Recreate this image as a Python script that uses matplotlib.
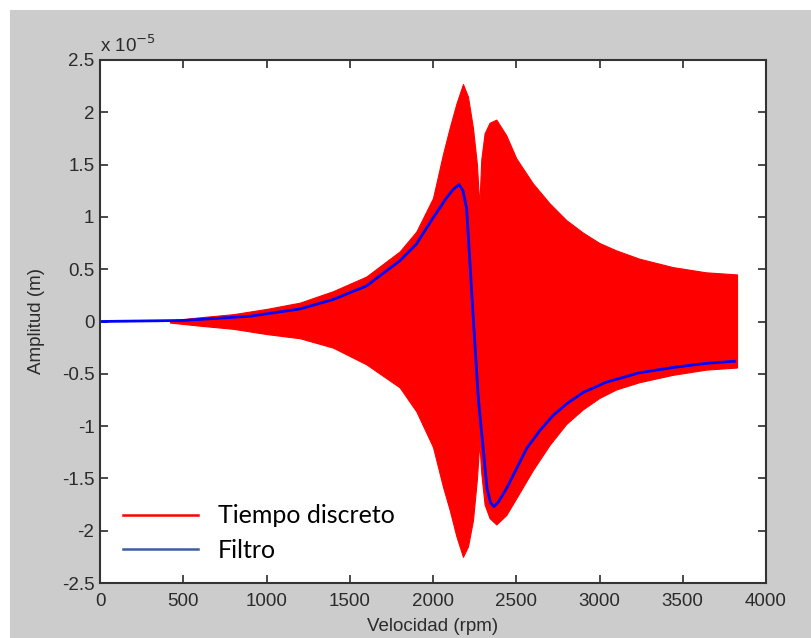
import numpy as np
import matplotlib
matplotlib.use('Agg')
import matplotlib.pyplot as plt
from matplotlib.lines import Line2D
from matplotlib.patches import Rectangle
from matplotlib.ticker import FuncFormatter, MultipleLocator

plt.rcParams['axes.unicode_minus'] = False
plt.rcParams['font.family'] = ['Liberation Sans', 'DejaVu Sans']

# envolvente de la respuesta en tiempo discreto (x 1e-5 m)
rpm_env = [420, 600, 800, 1000, 1200, 1400, 1600, 1800, 1900, 2000, 2060, 2100,
           2140, 2180, 2210, 2240, 2264, 2278, 2290, 2310, 2340, 2380, 2440, 2500,
           2600, 2700, 2800, 2900, 3000, 3100, 3240, 3440, 3640, 3826]
env_sup = [0.01, 0.04, 0.07, 0.12, 0.18, 0.29, 0.43, 0.67, 0.86, 1.18, 1.60, 1.85,
           2.08, 2.27, 2.15, 1.85, 1.50, 1.10, 1.55, 1.80, 1.90, 1.93, 1.78, 1.56,
           1.32, 1.13, 0.97, 0.85, 0.75, 0.68, 0.60, 0.52, 0.47, 0.45]
env_inf = [-0.01, -0.04, -0.07, -0.12, -0.16, -0.25, -0.41, -0.63, -0.86, -1.20, -1.58, -1.80,
           -2.05, -2.25, -2.15, -1.90, -1.50, -1.15, -1.45, -1.75, -1.88, -1.94, -1.85, -1.69,
           -1.42, -1.18, -0.98, -0.84, -0.73, -0.65, -0.58, -0.51, -0.46, -0.44]

# respuesta filtrada
rpm_f = [0, 500, 900, 1200, 1400, 1600, 1800, 1900, 2000, 2080, 2120, 2156, 2180, 2202,
         2242, 2272, 2324, 2345, 2366, 2395, 2444, 2564, 2643, 2720, 2800, 2900, 3040,
         3240, 3440, 3640, 3810]
filtro = [0, 0.01, 0.05, 0.12, 0.21, 0.34, 0.58, 0.74, 0.99, 1.18, 1.26, 1.31, 1.25, 1.08,
          0.03, -0.73, -1.59, -1.73, -1.77, -1.72, -1.59, -1.21, -1.04, -0.90, -0.79, -0.68, -0.58,
          -0.49, -0.44, -0.40, -0.38]

fig = plt.figure(figsize=(8.11, 6.38), dpi=100, facecolor='#cccccc')
# bordes blancos arriba e izquierda
fig.patches.append(Rectangle((0, 1 - 10/638), 1, 10/638, transform=fig.transFigure,
                             facecolor='white', edgecolor='none'))
fig.patches.append(Rectangle((0, 0), 10/811, 1, transform=fig.transFigure,
                             facecolor='white', edgecolor='none'))
ax = fig.add_axes([100/811, 1 - 583/638, 666/811, 523/638])

ax.fill_between(rpm_env, env_sup, env_inf, color='#ff0000', linewidth=0.8, edgecolor='#ff0000')
ax.plot(rpm_f, filtro, color='#0000ff', lw=2)

ax.set_xlim(0, 4000)
ax.set_ylim(-2.5, 2.5)
ax.xaxis.set_major_locator(MultipleLocator(500))
ax.yaxis.set_major_locator(MultipleLocator(0.5))
ax.yaxis.set_major_formatter(FuncFormatter(lambda v, p: '%g' % v))

tc = '#2b2b2b'
ax.tick_params(direction='in', length=6, width=1.2, top=True, right=True,
               labelsize=13.5, colors=tc, pad=4)
ax.tick_params(axis='x', pad=7)
for s in ax.spines.values():
    s.set_linewidth(1.5)
    s.set_color('#333333')

ax.set_xlabel('Velocidad (rpm)', fontsize=13.5, color=tc, labelpad=6)
ax.set_ylabel('Amplitud (m)', fontsize=13.5, color=tc, labelpad=12)
ax.text(0.0, 1.008, r'x 10$^{-5}$', transform=ax.transAxes, fontsize=13.5, color=tc,
        ha='left', va='bottom')

h = [Line2D([], [], color='#ff0000', lw=1.8), Line2D([], [], color='#3a5fa0', lw=1.8)]
ax.legend(h, ['Tiempo discreto', 'Filtro'], loc='lower left', bbox_to_anchor=(0.0, -0.002),
          frameon=False, prop={'family': 'Lato', 'size': 18}, handlelength=3.0,
          handletextpad=0.8, labelspacing=0.45)

fig.savefig('out.png', dpi=100, facecolor=fig.get_facecolor())
